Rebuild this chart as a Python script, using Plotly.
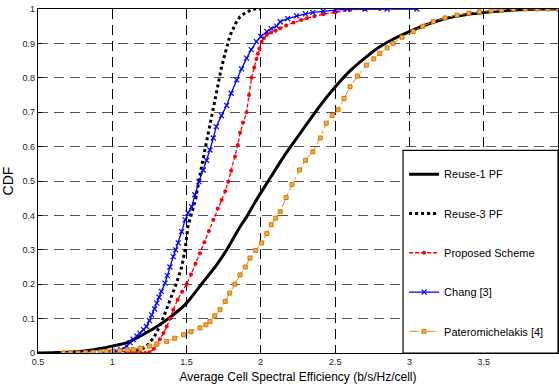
import plotly.graph_objects as go

# ---- data ----
reuse1_x = [0.5, 0.6, 0.7, 0.8, 0.9, 1.0, 1.1, 1.2, 1.3, 1.377, 1.45, 1.5, 1.6, 1.7, 1.77, 1.85, 1.91,
            1.97, 2.05, 2.13, 2.2, 2.3, 2.4, 2.5, 2.6, 2.71, 2.8, 2.88, 3.0, 3.1, 3.25, 3.4, 3.5, 3.7, 3.9, 4.0]
reuse1_y = [0.0, 0.001, 0.002, 0.005, 0.012, 0.02, 0.03, 0.052, 0.077, 0.1, 0.125, 0.145, 0.2, 0.255, 0.3, 0.36, 0.4,
            0.445, 0.5, 0.555, 0.6, 0.66, 0.72, 0.773, 0.82, 0.861, 0.89, 0.91, 0.934, 0.952, 0.973, 0.985, 0.99, 0.997, 1.0, 1.0]

reuse3_x = [1.0, 1.1, 1.15, 1.2, 1.23, 1.28, 1.32, 1.36, 1.39, 1.43, 1.467, 1.49, 1.51, 1.535, 1.56,
            1.6, 1.646, 1.69, 1.736, 1.79, 1.83, 1.86, 1.9, 1.95, 2.0]
reuse3_y = [0.0, 0.002, 0.006, 0.012, 0.02, 0.045, 0.077, 0.12, 0.155, 0.2, 0.25, 0.3, 0.37, 0.41, 0.445,
            0.54, 0.64, 0.736, 0.832, 0.92, 0.958, 0.978, 0.99, 1.0, 1.0]

proposed_x = [1.10, 1.13, 1.16, 1.19, 1.22, 1.25, 1.28, 1.30, 1.32, 1.345, 1.366, 1.39, 1.41, 1.44, 1.47, 1.50,
              1.53, 1.56, 1.59, 1.62, 1.65, 1.68, 1.71, 1.736, 1.76, 1.78, 1.80, 1.826, 1.845, 1.86, 1.88, 1.904,
              1.92, 1.937, 1.955, 1.97, 1.98, 1.99, 2.005, 2.02, 2.04, 2.07, 2.10, 2.13, 2.17, 2.22, 2.27, 2.31,
              2.36, 2.42, 2.5, 2.6, 2.7, 2.8]
proposed_y = [0.0, 0.0, 0.0, 0.0, 0.0, 0.002, 0.012, 0.025, 0.04, 0.058, 0.077, 0.10, 0.126, 0.155, 0.178, 0.20,
              0.228, 0.26, 0.29, 0.322, 0.355, 0.387, 0.42, 0.445, 0.47, 0.498, 0.53, 0.571, 0.605, 0.64, 0.67, 0.70,
              0.75, 0.80, 0.83, 0.855, 0.87, 0.885, 0.905, 0.915, 0.925, 0.932, 0.937, 0.944, 0.952, 0.961, 0.968, 0.973,
              0.979, 0.985, 0.99, 0.997, 1.0, 1.0]

chang_x = [0.92, 0.97, 1.03, 1.06, 1.097, 1.12, 1.14, 1.165, 1.186, 1.21, 1.23, 1.25, 1.265, 1.285, 1.30, 1.315,
           1.33, 1.355, 1.37, 1.388, 1.41, 1.427, 1.444, 1.467, 1.49, 1.51, 1.534, 1.556, 1.583, 1.612, 1.635, 1.657,
           1.68, 1.70, 1.735, 1.77, 1.80, 1.837, 1.87, 1.904, 1.935, 1.97, 2.0, 2.04, 2.07, 2.106, 2.13, 2.18, 2.24,
           2.3, 2.35, 2.42, 2.5, 2.58, 2.7, 2.85, 3.05]
chang_y = [0.0, 0.002, 0.005, 0.01, 0.02, 0.03, 0.04, 0.049, 0.058, 0.068, 0.077, 0.094, 0.111, 0.128, 0.145, 0.162,
           0.179, 0.203, 0.225, 0.25, 0.28, 0.30, 0.32, 0.353, 0.387, 0.407, 0.425, 0.46, 0.498, 0.532, 0.56, 0.59,
           0.625, 0.658, 0.69, 0.72, 0.755, 0.794, 0.826, 0.857, 0.882, 0.905, 0.92, 0.934, 0.943, 0.95, 0.963, 0.972, 0.98,
           0.986, 0.99, 0.994, 0.997, 1.0, 1.0, 1.0, 1.0]

pater_x = [0.67, 0.72, 0.77, 0.82, 0.87, 0.92, 0.96, 1.0, 1.05, 1.1, 1.14, 1.19, 1.25, 1.3, 1.366, 1.42, 1.48, 1.53,
           1.59, 1.63, 1.657, 1.69, 1.725, 1.76, 1.79, 1.825, 1.86, 1.895, 1.927, 1.965, 2.005, 2.04, 2.07, 2.10, 2.13,
           2.17, 2.21, 2.26, 2.3, 2.35, 2.4, 2.44, 2.48, 2.52, 2.56, 2.6, 2.65, 2.71, 2.76, 2.80, 2.85, 2.89, 2.95, 3.025,
           3.09, 3.16, 3.24, 3.32, 3.4, 3.47, 3.55, 3.62, 3.7, 3.78, 3.86, 3.93, 4.0]
pater_y = [0.0, 0.0, 0.0, 0.001, 0.002, 0.003, 0.004, 0.005, 0.007, 0.009, 0.01, 0.014, 0.02, 0.026, 0.034, 0.043, 0.053,
           0.062, 0.073, 0.082, 0.092, 0.108, 0.126, 0.15, 0.174, 0.2, 0.227, 0.25, 0.276, 0.298, 0.32, 0.347, 0.373, 0.392,
           0.411, 0.452, 0.49, 0.532, 0.56, 0.585, 0.625, 0.668, 0.69, 0.707, 0.74, 0.774, 0.805, 0.837, 0.855, 0.871, 0.887,
           0.9, 0.918, 0.934, 0.95, 0.963, 0.974, 0.982, 0.988, 0.992, 0.995, 0.997, 1.0, 1.0, 1.0, 1.0, 1.0]

series_names = ["Reuse-1 PF", "Reuse-3 PF", "Proposed Scheme", "Chang [3]", "Pateromichelakis [4]"]
x_label = "Average Cell Spectral Efficiency (b/s/Hz/cell)"
y_label = "CDF"

FONT = "Liberation Sans, Arial, sans-serif"
ORANGE = "#E8890C"

fig = go.Figure()
fig.add_trace(go.Scatter(x=reuse1_x, y=reuse1_y, mode="lines", name=series_names[0], legendgroup="a",
                         line=dict(color="black", width=3, shape="spline", smoothing=0.6)))
fig.add_trace(go.Scatter(x=reuse3_x, y=reuse3_y, mode="lines", name=series_names[1], legendgroup="b",
                         line=dict(color="black", width=3, dash="dot")))
fig.add_trace(go.Scatter(x=proposed_x, y=proposed_y, mode="lines+markers", name=series_names[2], legendgroup="c",
                         line=dict(color="#FF0000", width=1.3, dash="4px,2px"),
                         marker=dict(symbol="circle", size=4, color="#FF0000")))
fig.add_trace(go.Scatter(x=chang_x, y=chang_y, mode="lines+markers", name=series_names[3], legendgroup="d",
                         line=dict(color="#0000FF", width=1.3),
                         marker=dict(symbol="x-thin", size=5, line=dict(color="#0000FF", width=1.2))))
fig.add_trace(go.Scatter(x=pater_x, y=pater_y, mode="lines+markers", name=series_names[4], legendgroup="e",
                         line=dict(color=ORANGE, width=1, dash="dashdot"),
                         marker=dict(symbol="square", size=4, color="#F4A94A",
                                     line=dict(color="#D97800", width=1))))

fig.add_shape(type="rect", xref="paper", yref="paper", x0=0.702, x1=1.0, y0=0.0, y1=0.589,
              line=dict(color="black", width=1.2), fillcolor="white", layer="above")

fig.update_layout(
    width=559, height=387,
    margin=dict(l=38, r=1, t=9, b=34),
    paper_bgcolor="white", plot_bgcolor="white",
    font=dict(family=FONT, color="black"),
    legend=dict(x=0.704, y=0.562, xanchor="left", yanchor="top", bgcolor="rgba(0,0,0,0)",
                borderwidth=0, font=dict(size=11, family=FONT, color="black"),
                traceorder="grouped", tracegroupgap=20.3, itemwidth=30),
    xaxis=dict(range=[0.5, 4], dtick=0.5, tick0=0.5, showgrid=True, gridcolor="black", gridwidth=1,
               griddash="10px,6px", showline=True, linecolor="black", linewidth=1.2, mirror=True,
               ticks="inside", ticklen=4, tickcolor="black", zeroline=False,
               tickfont=dict(size=9, color="#222"),
               title=dict(text=x_label, font=dict(size=12), standoff=6)),
    yaxis=dict(range=[0, 1], dtick=0.1, tick0=0, showgrid=True, gridcolor="#555", gridwidth=1,
               griddash="10px,6px", showline=True, linecolor="black", linewidth=1.2, mirror=True,
               ticks="inside", ticklen=4, tickcolor="black", zeroline=False,
               tickfont=dict(size=9, color="#222"),
               title=dict(text=y_label, font=dict(size=14), standoff=6)),
)

fig.write_html("out.html", config={"displayModeBar": False},
               post_script="document.body.style.margin='0';document.body.style.padding='0';")
